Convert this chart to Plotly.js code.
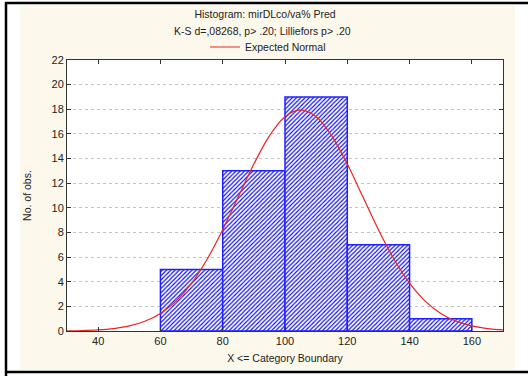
<!DOCTYPE html>
<html>
<head>
<meta charset="utf-8">
<script src="https://cdn.plot.ly/plotly-3.0.1.min.js"></script>
<style>
html,body{margin:0;padding:0;background:#ffffff;}
#chart{width:528px;height:376px;}
</style>
</head>
<body>
<div id="chart"></div>
<script>
// Histogram bins (lower edge), bin width and counts
var binStart = [60, 80, 100, 120, 140];
var binWidth = 20;
var counts = [5, 13, 19, 7, 1];

// Expected normal curve
var curveX = [30, 35, 40, 45, 50, 55, 60, 65, 70, 75, 80, 85, 90, 95, 100, 105, 110, 115, 120, 125, 130, 135, 140, 145, 150, 155, 160, 165, 170];
var curveY = [0.02, 0.04, 0.09, 0.20, 0.41, 0.79, 1.43, 2.43, 3.88, 5.83, 8.22, 10.89, 13.55, 15.84, 17.40, 17.95, 17.40, 15.84, 13.55, 10.89, 8.22, 5.83, 3.88, 2.43, 1.43, 0.79, 0.41, 0.20, 0.09];

var xTicks = [40, 60, 80, 100, 120, 140, 160];
var yTicks = [0, 2, 4, 6, 8, 10, 12, 14, 16, 18, 20, 22];

var titleLine1 = "Histogram: mirDLco/va% Pred";
var titleLine2 = "K-S d=,08268, p> .20; Lilliefors p> .20";
var legendName = "Expected Normal";
var xTitle = "X <= Category Boundary";
var yTitle = "No. of obs.";

var FONT = "Liberation Sans, Arial, sans-serif";

// plot area in pixels
var L = 67, R = 503, T = 60, B = 331;
function px(x){ return (x - L) / (R - L); }
function py(y){ return (B - y) / (B - T); }

var traces = [
  {
    type: "bar",
    x: binStart,
    y: counts,
    width: binWidth,
    offset: 0,
    showlegend: false,
    hoverinfo: "x+y",
    marker: {
      color: "#ffffff",
      line: {color: "#2020ff", width: 1.5},
      pattern: {shape: "/", fgcolor: "#1010f0", bgcolor: "#ffffff", size: 3, solidity: 0.4}
    }
  },
  {
    type: "scatter",
    mode: "lines",
    x: curveX,
    y: curveY,
    name: legendName,
    line: {color: "#ee2222", width: 1.2, shape: "spline"}
  }
];

var layout = {
  width: 528,
  height: 376,
  margin: {l: L, r: 528 - R, t: T, b: 376 - B, pad: 0},
  paper_bgcolor: "#ffffff",
  plot_bgcolor: "rgba(0,0,0,0)",
  font: {family: FONT, size: 11, color: "#222222"},
  bargap: 0,
  title: {
    text: titleLine1,
    font: {family: FONT, size: 10.5, color: "#222222"},
    x: 265 / 528, xanchor: "center", xref: "container",
    y: 1 - 14 / 376, yanchor: "middle", yref: "container"
  },
  showlegend: true,
  legend: {
    orientation: "h",
    x: px(268), xanchor: "center", xref: "paper",
    y: py(47), yanchor: "middle", yref: "paper",
    bgcolor: "rgba(0,0,0,0)",
    font: {family: FONT, size: 10.5, color: "#222222"},
    itemwidth: 30
  },
  xaxis: {
    range: [30, 170],
    tickvals: xTicks,
    ticktext: xTicks.map(String),
    ticks: "inside",
    ticklen: 4,
    tickcolor: "#333333",
    showgrid: false,
    zeroline: false,
    showline: true,
    linecolor: "#333333",
    linewidth: 1,
    mirror: "ticks",
    tickfont: {family: FONT, size: 11, color: "#222222"},
    title: {text: xTitle, font: {family: FONT, size: 10.5, color: "#222222"}, standoff: 8}
  },
  yaxis: {
    range: [0, 22],
    tickvals: yTicks,
    ticktext: yTicks.map(String),
    ticks: "inside",
    ticklen: 4,
    tickcolor: "#333333",
    showgrid: true,
    gridcolor: "#c4c4c4",
    griddash: "dot",
    gridwidth: 1,
    zeroline: false,
    showline: true,
    linecolor: "#333333",
    linewidth: 1,
    mirror: "ticks",
    tickfont: {family: FONT, size: 11, color: "#222222"},
    title: {text: yTitle, font: {family: FONT, size: 10.5, color: "#222222"}, standoff: 17}
  },
  annotations: [
    {
      text: titleLine2,
      xref: "paper", yref: "paper",
      x: px(262), y: py(31),
      xanchor: "center", yanchor: "middle",
      showarrow: false,
      font: {family: FONT, size: 10.5, color: "#222222"}
    }
  ],
  shapes: [
    // cream panel
    {type: "rect", xref: "paper", yref: "paper", layer: "below",
     x0: px(20), x1: px(515), y0: py(370), y1: py(5),
     fillcolor: "#fdf8ec", line: {width: 0}},
    // white plot area
    {type: "rect", xref: "paper", yref: "paper", layer: "below",
     x0: 0, x1: 1, y0: 0, y1: 1,
     fillcolor: "#ffffff", line: {width: 0}},
    // black outer border lines
    {type: "line", xref: "paper", yref: "paper",
     x0: px(6), x1: px(6), y0: py(376), y1: py(2),
     line: {color: "#000000", width: 2.5}},
    {type: "line", xref: "paper", yref: "paper",
     x0: px(5), x1: px(528), y0: py(3), y1: py(3),
     line: {color: "#000000", width: 2.5}},
    {type: "line", xref: "paper", yref: "paper",
     x0: px(5), x1: px(528), y0: py(372), y1: py(372),
     line: {color: "#000000", width: 2.5}}
  ]
};

Plotly.newPlot("chart", traces, layout, {staticPlot: true, displayModeBar: false});
</script>
</body>
</html>
